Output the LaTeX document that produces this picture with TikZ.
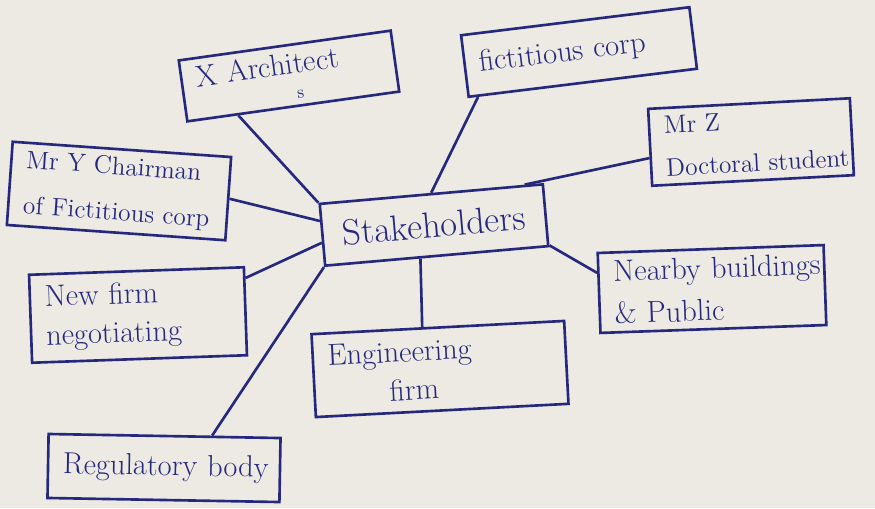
\documentclass[tikz,border=0pt]{standalone}
\usepackage{tikz}
\usetikzlibrary{positioning}
\definecolor{ink}{RGB}{38,40,125}
\definecolor{paper}{RGB}{236,234,226}
\tikzset{
 box/.style={draw=ink,text=ink,line width=1.5pt,shape=rectangle,align=left,
   inner xsep=0.3cm,inner ysep=0.15cm,font=\LARGE},
 link/.style={draw=ink,line width=1.5pt}
}

\begin{document}
\begin{tikzpicture}[x=0.02cm,y=-0.02cm]
\useasboundingbox (0,0) rectangle (875,508);
\path[fill=paper] (0,0) rectangle (875,508);

\path (434,225) node[name=stake,box,rotate=5,align=center,text width=3.88cm,minimum height=1.24cm,font=\huge] {\mbox{Stakeholders}};

\path (289,76) node[name=arch,box,rotate=8,text width=3.68cm,minimum height=1.2cm] {\mbox{X Archi\rlap{\raisebox{-1.9ex}{\normalsize s}}tect}};
\path (579,52) node[name=fict,box,rotate=7,text width=4cm,minimum height=1.24cm] {\mbox{fictitious corp}};
\path (751,142) node[name=mrz,box,rotate=3,text width=3.44cm,minimum height=1.54cm,font=\Large] {Mr Z\\[6pt]\mbox{Doctoral student}};
\path (119,191) node[name=mry,box,rotate=-4,text width=3.78cm,minimum height=1.66cm,font=\Large] {\mbox{Mr Y Chairman}\\[8pt]\mbox{of Fictitious corp}};
\path (138,315) node[name=newf,box,rotate=2,text width=3.7cm,minimum height=1.76cm] {New firm\\\mbox{negotiating}};
\path (712,289) node[name=near,box,rotate=2,text width=3.92cm,minimum height=1.6cm] {\mbox{Nearby buildings}\\[2pt]\& Public};
\path (440,369) node[name=eng,box,rotate=3,text width=4.46cm,minimum height=1.66cm] {\mbox{Engineering}\\\hspace{1.2cm}firm};
\path (164,468) node[name=reg,box,rotate=-1,text width=4.04cm,minimum height=1.28cm] {\mbox{Regulatory body}};

\path[link] (arch.210) edge (stake.north west);
\path[link] (fict.197) edge (stake.north);
\path[link] (mrz.186) edge (stake.19);
\path[link] (mry.east) edge (stake.173);
\path[link] (newf.17) edge (stake.184);
\path[link] (reg.35) edge (stake.south west);
\path[link] (stake.243) edge (eng.110);
\path[link] (stake.345) edge (near.170);
\end{tikzpicture}
\end{document}
